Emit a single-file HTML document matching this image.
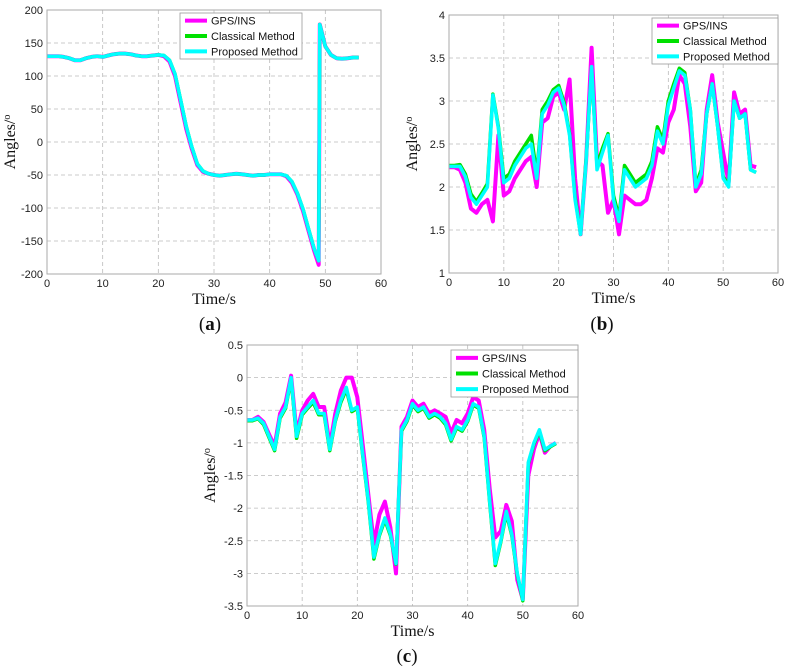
<!DOCTYPE html>
<html><head><meta charset="utf-8"><style>
html,body{margin:0;padding:0;background:#fff;}
svg{display:block;}
.tk{font-family:"Liberation Sans",sans-serif;font-size:11px;fill:#222;}
.lg{font-family:"Liberation Sans",sans-serif;font-size:11px;fill:#111;}
.ax{font-family:"Liberation Serif",serif;font-size:16px;fill:#111;}
.sub{font-family:"Liberation Serif",serif;font-size:19px;fill:#111;}
</style></head><body>
<svg id="fig" width="789" height="672" viewBox="0 0 789 672"></svg>
<script>
// ---- data: chart (a) ----
const tA = [0,1,2,3,4,5,6,7,8,9,10,11,12,13,14,15,16,17,18,19,20,21,22,23,24,25,26,27,28,29,30,31,32,33,34,35,36,37,38,39,40,41,42,43,44,45,46,47,48,48.8,49,50,51,52,53,54,55,56];
const gpsA = [130,130,130,129,127,124,124,127,129,130,129,131,133,134,134,133,131,130,130,131,132,130,122,100,60,20,-10,-35,-45,-48,-50,-51,-50,-49,-48,-49,-50,-51,-50,-50,-49,-49,-49,-52,-62,-80,-105,-135,-165,-186,178,145,132,127,126,127,128,128];
const clsA = [130,130,130,129,127,124,124,127,129,130,129,131,133,134,134,133,131,130,130,131,132,131,124,103,64,24,-7,-33,-44,-48,-50,-51,-50,-49,-48,-49,-50,-51,-50,-50,-49,-49,-49,-51,-60,-78,-102,-132,-162,-180,178,145,132,127,126,127,128,128];
const prpA = [130,130,130,129,127,124,124,127,129,130,129,131,133,134,134,133,131,130,130,131,132,131,124,103,64,24,-7,-33,-44,-48,-50,-51,-50,-49,-48,-49,-50,-51,-50,-50,-49,-49,-49,-51,-60,-78,-102,-132,-162,-180,178,145,132,127,126,127,128,128];
// ---- data: chart (b) (1 s steps) ----
const gpsB = [2.23,2.23,2.2,2.05,1.75,1.7,1.8,1.85,1.6,2.6,1.9,1.95,2.1,2.2,2.3,2.35,2.0,2.75,2.8,3.05,3.1,2.9,3.25,2.1,1.45,2.3,3.62,2.3,2.25,1.7,1.85,1.45,1.9,1.85,1.8,1.8,1.85,2.1,2.45,2.4,2.75,2.9,3.3,3.2,2.7,1.95,2.05,2.9,3.3,2.75,2.4,2.05,3.1,2.85,2.9,2.25,2.23];
const clsB = [2.25,2.25,2.26,2.15,1.92,1.83,1.93,2.04,3.08,2.7,2.1,2.15,2.3,2.4,2.5,2.6,2.15,2.9,3.0,3.13,3.18,2.98,2.62,1.88,1.45,2.32,3.38,2.25,2.45,2.62,1.9,1.65,2.25,2.15,2.05,2.1,2.15,2.3,2.7,2.55,3.0,3.2,3.38,3.33,2.9,2.02,2.2,2.85,3.2,2.7,2.12,2.02,3.0,2.8,2.85,2.2,2.17];
const prpB = [2.24,2.24,2.24,2.12,1.88,1.8,1.9,2.0,3.07,2.68,2.05,2.1,2.25,2.35,2.45,2.5,2.1,2.85,2.95,3.1,3.15,2.95,2.6,1.85,1.45,2.3,3.4,2.2,2.4,2.6,1.85,1.6,2.2,2.1,2.0,2.05,2.1,2.25,2.65,2.5,2.95,3.15,3.35,3.3,2.9,2.0,2.15,2.85,3.2,2.7,2.1,2.0,3.0,2.8,2.85,2.2,2.17];
// ---- data: chart (c) (1 s steps) ----
const gpsC = [-0.65,-0.65,-0.6,-0.68,-0.87,-1.05,-0.55,-0.38,0.03,-0.85,-0.5,-0.35,-0.25,-0.45,-0.45,-1.05,-0.55,-0.2,0.0,0.0,-0.3,-1.05,-1.8,-2.55,-2.1,-1.9,-2.3,-3.0,-0.75,-0.6,-0.35,-0.45,-0.4,-0.55,-0.5,-0.55,-0.6,-0.85,-0.65,-0.7,-0.55,-0.3,-0.35,-0.8,-1.7,-2.45,-2.35,-1.95,-2.2,-3.1,-3.4,-1.5,-1.1,-0.85,-1.15,-1.05,-1.0];
const clsC = [-0.66,-0.66,-0.63,-0.72,-0.92,-1.12,-0.62,-0.47,-0.02,-0.93,-0.57,-0.47,-0.38,-0.57,-0.57,-1.12,-0.67,-0.38,-0.18,-0.52,-0.47,-1.22,-1.92,-2.78,-2.42,-2.18,-2.42,-2.86,-0.82,-0.67,-0.42,-0.52,-0.47,-0.62,-0.57,-0.62,-0.72,-0.97,-0.77,-0.82,-0.67,-0.42,-0.47,-0.92,-1.92,-2.88,-2.52,-2.08,-2.42,-3.02,-3.42,-1.32,-1.02,-0.82,-1.12,-1.06,-1.01];
const prpC = [-0.65,-0.65,-0.62,-0.7,-0.9,-1.1,-0.6,-0.45,0.0,-0.9,-0.55,-0.45,-0.35,-0.55,-0.55,-1.1,-0.65,-0.35,-0.15,-0.5,-0.45,-1.2,-1.9,-2.75,-2.4,-2.15,-2.4,-2.85,-0.8,-0.65,-0.4,-0.5,-0.45,-0.6,-0.55,-0.6,-0.7,-0.95,-0.75,-0.8,-0.65,-0.4,-0.45,-0.9,-1.9,-2.85,-2.5,-2.05,-2.4,-3.0,-3.4,-1.3,-1.0,-0.8,-1.1,-1.05,-1.0];
const xTicks = [0,10,20,30,40,50,60];
const yTicksA = [200,150,100,50,0,-50,-100,-150,-200];
const yTicksB = [4,3.5,3,2.5,2,1.5,1];
const yTicksC = [0.5,0,-0.5,-1,-1.5,-2,-2.5,-3,-3.5];
const legendLabels = ["GPS/INS","Classical Method","Proposed Method"];
const seriesColors = ["#ff00ff","#00e000","#00ffff"];

const NS="http://www.w3.org/2000/svg";
const fig=document.getElementById('fig');
function mk(tag,attrs,parent){const e=document.createElementNS(NS,tag);for(const k in attrs)e.setAttribute(k,attrs[k]);(parent||fig).appendChild(e);return e;}
function secs(n){const a=[];for(let i=0;i<n;i++)a.push(i);return a;}

function chart(id,box,yMin,yMax,yTicks,t,series,legBox,label,subPos){
  const g=mk('g',{});
  
  
  const [x0,y0,x1,y1]=box;
  const X=v=>x0+(v-0)/(60-0)*(x1-x0);
  const Y=v=>y1-(v-yMin)/(yMax-yMin)*(y1-y0);
  const bg=mk('rect',{x:x0,y:y0,width:x1-x0,height:y1-y0,fill:'#fff',stroke:'none'},g);
  
  
  xTicks.forEach(v=>{
    if(v>0&&v<60){const l=mk('line',{x1:X(v),x2:X(v),y1:y0,y2:y1,stroke:'#bbb','stroke-dasharray':'4,3','stroke-width':0.8},g);
    
    }
    const tx=mk('text',{x:X(v),y:y1+13,'text-anchor':'middle',class:'tk'},g);tx.textContent=v;
    
    
  });
  yTicks.forEach(v=>{
    if(v>yMin&&v<yMax){const l=mk('line',{x1:x0,x2:x1,y1:Y(v),y2:Y(v),stroke:'#bbb','stroke-dasharray':'4,3','stroke-width':0.8},g);
    
    }
    const tx=mk('text',{x:x0-4,y:Y(v)+4,'text-anchor':'end',class:'tk'},g);tx.textContent=v;
    
    
  });
  const names=['gps-ins-line','classical-method-line','proposed-method-line'];
  const widths=[4,3.5,3.5];
  series.forEach((s,i)=>{
    const d=s.map((v,j)=>(j?'L':'M')+X(t[j]).toFixed(1)+','+Y(v).toFixed(1)).join('');
    const p=mk('path',{d:d,fill:'none',stroke:seriesColors[i],'stroke-width':widths[i],'stroke-linejoin':'round'},g);
    
    
  });
  const fr=mk('rect',{x:x0,y:y0,width:x1-x0,height:y1-y0,fill:'none',stroke:'#aaa','stroke-width':1},g);
  
  
  // legend
  const [lx0,ly0,lx1,ly1]=legBox;
  const lg=mk('g',{},g);
  
  
  mk('rect',{x:lx0,y:ly0,width:lx1-lx0,height:ly1-ly0,fill:'#fff',stroke:'#999','stroke-width':0.8},lg);
  const rowH=(ly1-ly0)/3;
  legendLabels.forEach((lab,i)=>{
    const cy=ly0+rowH*(i+0.5);
    const e=mk('g',{},lg);
    
    
    mk('line',{x1:lx0+5,x2:lx0+27,y1:cy,y2:cy,stroke:seriesColors[i],'stroke-width':4},e);
    const tx=mk('text',{x:lx0+31,y:cy+4,class:'lg'},e);tx.textContent=lab;
  });
  const xl=mk('text',{x:(x0+x1)/2,y:y1+30,'text-anchor':'middle',class:'ax'},g);xl.textContent='Time/s';
  
  
  const yx=x0-32, yy=(y0+y1)/2;
  const yl=mk('text',{x:yx,y:yy,'text-anchor':'middle',class:'ax',transform:`rotate(-90 ${yx} ${yy})`},g);
  yl.textContent='Angles/';
  const sup=mk('tspan',{dy:-5,'font-size':'10px'},yl);sup.textContent='o';
  
  
  const sl=mk('text',{x:subPos[0],y:subPos[1],'text-anchor':'middle',class:'sub'},g);
  sl.innerHTML='(<tspan font-weight="bold">'+label+'</tspan>)';
  
  
}
chart('chart-a',[47,10,381,274],-200,200,yTicksA,tA,[gpsA,clsA,prpA],[180,13,302,59],'a',[210,330]);
chart('chart-b',[449,15,778,273],1,4,yTicksB,secs(57),[gpsB,clsB,prpB],[652,18,778,64],'b',[602,330]);
chart('chart-c',[247,345,578,606],-3.5,0.5,yTicksC,secs(57),[gpsC,clsC,prpC],[451,350,578,397],'c',[407,662]);
</script>
</body></html>
